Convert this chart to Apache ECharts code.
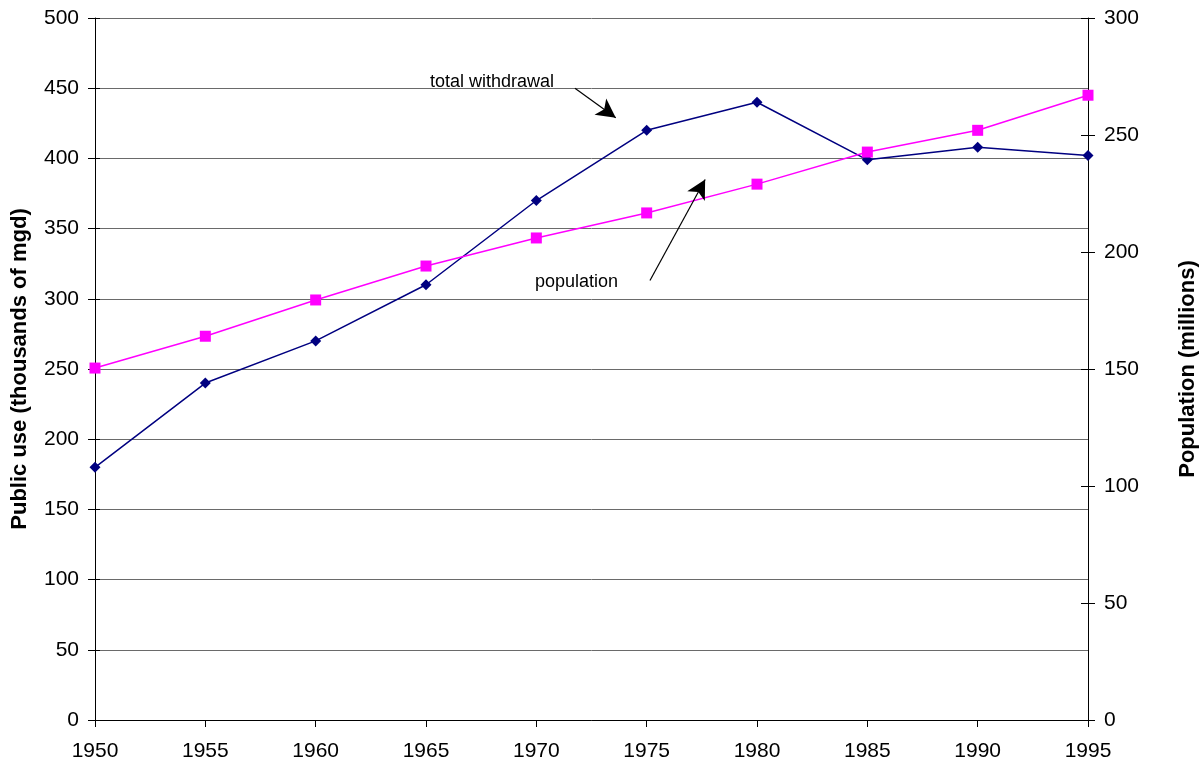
<!DOCTYPE html>
<html><head><meta charset="utf-8">
<script src="https://cdn.jsdelivr.net/npm/echarts@6/dist/echarts.min.js"></script>
<style>html,body{margin:0;padding:0;background:#fff}#c{width:1204px;height:772px}</style>
</head><body><div id="c"></div>
<script>
const years = [1950,1955,1960,1965,1970,1975,1980,1985,1990,1995];
const withdrawal = [180,240,270,310,370,420,440,399,408,402];
const population = [150.4,164,179.5,194,206,216.7,229,242.7,252,267];
const leftTicks = {min:0,max:500,interval:50};
const rightTicks = {min:0,max:300,interval:50};
// annotation arrows in data coordinates (x: year, y: left axis units)
const arrowWithdrawal = [[1971.75,450],[1973.6,429]];
const arrowPopulation = [[1975.15,313],[1977.65,385]];

const font = '"Liberation Sans", Arial, sans-serif';
const lab = {color:'#000',fontFamily:font,fontSize:21};
const chart = echarts.init(document.getElementById('c'));
chart.setOption({
  animation:false,
  backgroundColor:'#fff',
  grid:{left:95,right:116,top:18,bottom:52,outerBoundsMode:'none',containLabel:false},
  xAxis:{type:'value',min:1950,max:1995,interval:5,
    axisLine:{lineStyle:{color:'#000',width:1}},
    axisTick:{length:7,lineStyle:{color:'#000'}},
    axisLabel:Object.assign({margin:21,formatter:v=>String(v)},lab),
    splitLine:{show:false}},
  yAxis:[
    {type:'value',min:leftTicks.min,max:leftTicks.max,interval:leftTicks.interval,position:'left',
     name:'Public use (thousands of mgd)',nameLocation:'middle',nameGap:64,
     nameTextStyle:{color:'#000',fontFamily:font,fontSize:22,fontWeight:'bold'},
     axisLine:{show:true,lineStyle:{color:'#000'}},
     axisTick:{show:true,length:7,lineStyle:{color:'#000'}},
     axisLabel:Object.assign({margin:16},lab),
     splitLine:{show:true,lineStyle:{color:'#6a6a6a',width:1}}},
    {type:'value',min:rightTicks.min,max:rightTicks.max,interval:rightTicks.interval,position:'right',
     name:'Population (millions)',nameLocation:'middle',nameGap:89,nameRotate:90,
     nameTextStyle:{color:'#000',fontFamily:font,fontSize:22,fontWeight:'bold'},
     axisLine:{show:true,lineStyle:{color:'#000'}},
     axisTick:{show:true,inside:true,length:7,lineStyle:{color:'#000'}},
     axisLabel:Object.assign({margin:16},lab),
     splitLine:{show:false}},
    // companion axes to draw the other half of the crossing tick marks
    {type:'value',min:leftTicks.min,max:leftTicks.max,interval:leftTicks.interval,position:'left',
     axisLine:{show:false},axisTick:{show:true,inside:true,length:5,lineStyle:{color:'#000'}},
     axisLabel:{show:false},splitLine:{show:false}},
    {type:'value',min:rightTicks.min,max:rightTicks.max,interval:rightTicks.interval,position:'right',
     axisLine:{show:false},axisTick:{show:true,inside:false,length:7,lineStyle:{color:'#000'}},
     axisLabel:{show:false},splitLine:{show:false}}
  ],
  series:[
    {name:'total withdrawal',type:'line',yAxisIndex:0,
     data:years.map((y,i)=>[y,withdrawal[i]]),
     symbol:'diamond',symbolSize:11,
     lineStyle:{color:'#000080',width:1.5},itemStyle:{color:'#000080'},
     markLine:{silent:true,symbol:['none','arrow'],symbolSize:[15,19],
       lineStyle:{color:'#000',width:1.2,type:'solid'},label:{show:false},
       data:[
         [{coord:arrowWithdrawal[0]},{coord:arrowWithdrawal[1]}],
         [{coord:arrowPopulation[0]},{coord:arrowPopulation[1]}]
       ]}},
    {name:'population',type:'line',yAxisIndex:1,
     data:years.map((y,i)=>[y,population[i]]),
     symbol:'rect',symbolSize:11,
     lineStyle:{color:'#FF00FF',width:1.5},itemStyle:{color:'#FF00FF'}}
  ],
  graphic:[
    {type:'text',left:430,top:73,style:{text:'total withdrawal',fill:'#000',font:'18px "Liberation Sans", Arial, sans-serif'}},
    {type:'text',left:535,top:273,style:{text:'population',fill:'#000',font:'18px "Liberation Sans", Arial, sans-serif'}}
  ]
});
</script></body></html>
